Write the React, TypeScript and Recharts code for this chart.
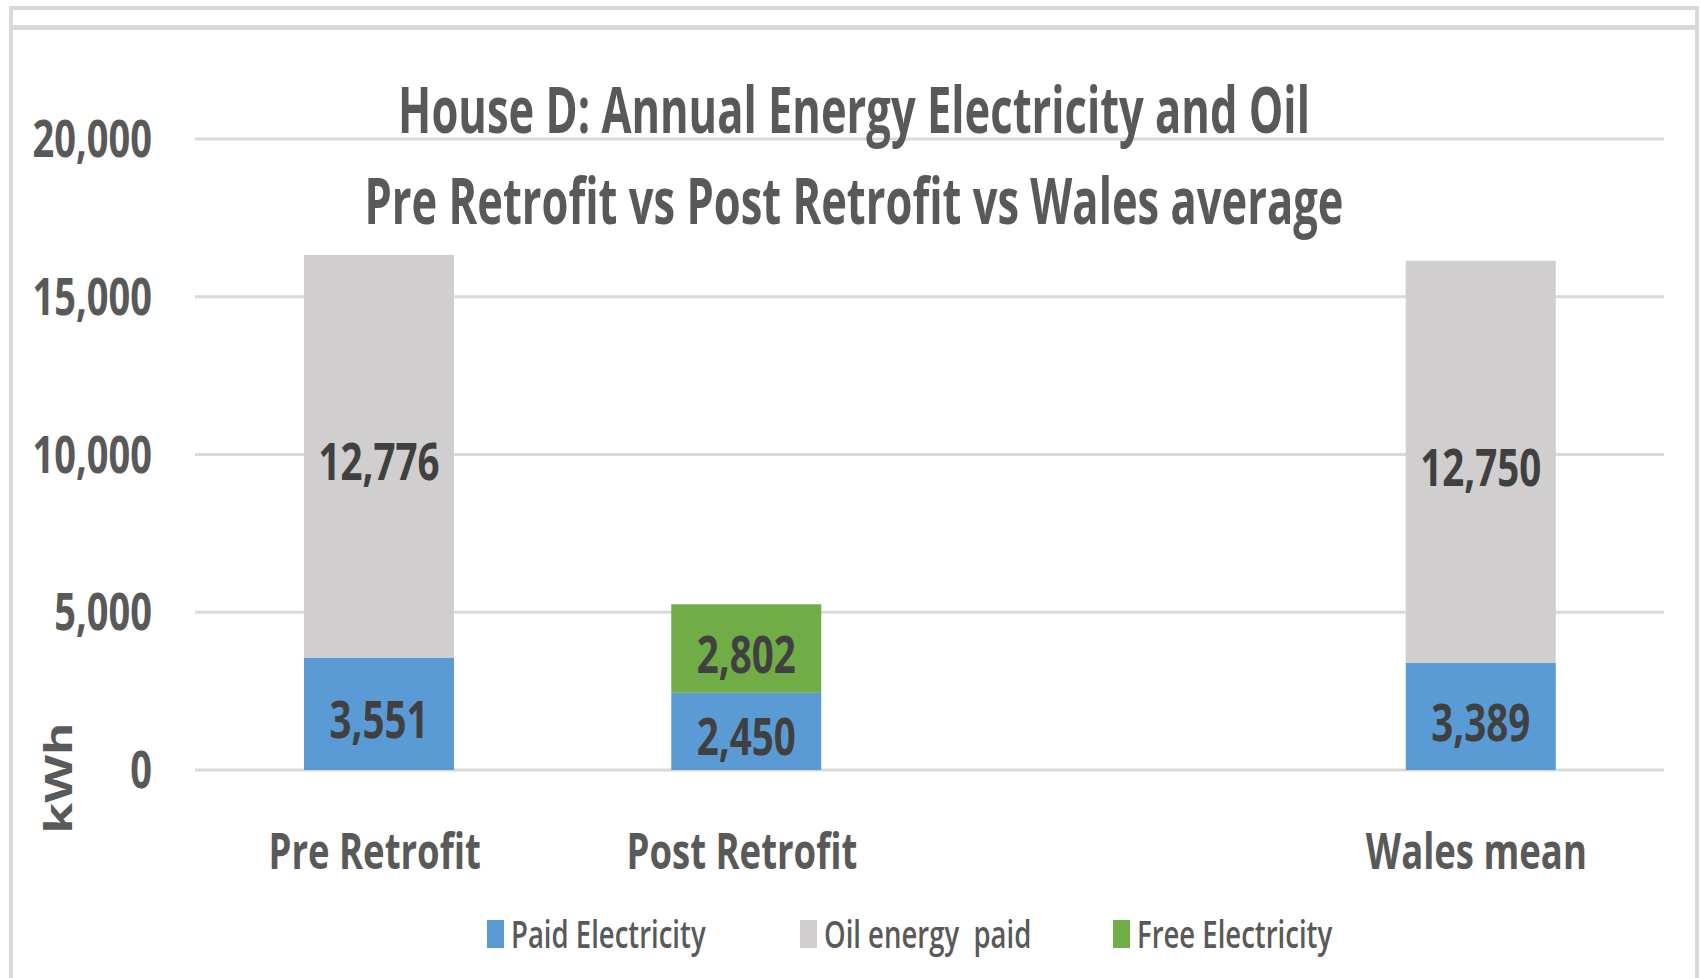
import React from "react";
import { BarChart, Bar, XAxis, YAxis, CartesianGrid, Legend, LabelList } from "recharts";

const CATEGORIES = ["Pre Retrofit", "Post Retrofit", "", "Wales mean"];
const PAID_ELECTRICITY = [3551, 2450, null, 3389];
const OIL_ENERGY_PAID = [12776, null, null, 12750];
const FREE_ELECTRICITY = [null, 2802, null, null];
const Y_TICKS = [0, 5000, 10000, 15000, 20000];
const TITLE_LINES = [
  "House D: Annual Energy Electricity and Oil",
  "Pre Retrofit vs Post Retrofit vs Wales average",
];
const Y_LABEL = "kWh";
const SERIES = [
  { key: "paid", name: "Paid Electricity", color: "#5B9BD5" },
  { key: "oil", name: "Oil energy  paid", color: "#D0CECE" },
  { key: "free", name: "Free Electricity", color: "#70AD47" },
];

const data = CATEGORIES.map((category, i) => ({
  category,
  paid: PAID_ELECTRICITY[i],
  oil: OIL_ENERGY_PAID[i],
  free: FREE_ELECTRICITY[i],
}));

const FONT = "'Open Sans', sans-serif";
const GREY_TEXT = "#595959";
const GRID = "#D9D9D9";

const fmt = (v: number) => v.toLocaleString("en-US");

// the source picture is stretched vertically, so text is drawn tall
function TallText({ x, y, size, weight, fill, sy, anchor = "middle", children }: any) {
  return (
    <text
      transform={`translate(${x},${y}) scale(1,${sy})`}
      fontFamily={FONT}
      fontSize={size}
      fontWeight={weight}
      fill={fill}
      textAnchor={anchor}
      style={{ whiteSpace: "pre" }}
    >
      {children}
    </text>
  );
}

function YTick({ x, y, payload }: any) {
  return (
    <TallText x={x} y={y + 18} size={38} weight={700} fill={GREY_TEXT} sy={1.37} anchor="end">
      {fmt(payload.value)}
    </TallText>
  );
}

function XTick({ x, y, payload }: any) {
  if (!payload.value) return null;
  return (
    <TallText x={x - 4} y={y + 99} size={36.5} weight={700} fill={GREY_TEXT} sy={1.38}>
      {payload.value}
    </TallText>
  );
}

function BarValue(props: any) {
  const { value } = props;
  if (value == null || value === 0) return null;
  const vb = props.viewBox || props;
  const cx = vb.x + vb.width / 2;
  const cy = vb.y + vb.height / 2 + 5;
  return (
    <TallText x={cx} y={cy + 19} size={38.5} weight={700} fill="#404040" sy={1.37}>
      {fmt(value)}
    </TallText>
  );
}

function LegendContent({ payload }: any) {
  const items = [...(payload || [])].sort(
    (a: any, b: any) =>
      SERIES.findIndex((s) => s.name === a.value) - SERIES.findIndex((s) => s.name === b.value)
  );
  return (
    <div style={{ display: "flex", alignItems: "center", paddingLeft: 487, height: 40 }}>
      {items.map((p: any) => (
        <div key={p.value} style={{ width: 313, display: "flex", alignItems: "center" }}>
          <span style={{ display: "inline-block", width: 17, height: 28, background: p.color, marginRight: 7 }} />
          <span
            style={{
              display: "inline-block",
              fontFamily: FONT,
              fontSize: 27.5,
              fontWeight: 600,
              lineHeight: "28px",
              color: GREY_TEXT,
              whiteSpace: "pre",
              transform: "scaleY(1.4)",
            }}
          >
            {p.value}
          </span>
        </div>
      ))}
    </div>
  );
}

export default function App() {
  return (
    <div style={{ position: "absolute", left: 0, top: 0, width: 1700, height: 978, overflow: "hidden", background: "#fff" }}>
      {/* chart frame */}
      <div
        style={{
          position: "absolute", left: 9, top: 6, width: 1690, height: 1100,
          border: `4px solid ${GRID}`, boxSizing: "border-box",
        }}
      />
      <div style={{ position: "absolute", left: 9, top: 25, width: 1690, height: 5, background: GRID }} />

      <div style={{ position: "absolute", left: 0, top: 0 }}>
        <BarChart
          width={1700}
          height={978}
          data={data}
          margin={{ top: 139, right: 36, left: 0, bottom: 108 }}
        >
          <CartesianGrid vertical={false} stroke={GRID} strokeWidth={3} />
          <YAxis
            width={195}
            domain={[0, 20000]}
            ticks={Y_TICKS}
            axisLine={false}
            tickLine={false}
            tickSize={0}
            tickMargin={43}
            tick={<YTick />}
          />
          <XAxis
            dataKey="category"
            height={100}
            interval={0}
            axisLine={false}
            tickLine={false}
            tickSize={0}
            tickMargin={0}
            tick={<XTick />}
          />
          <Legend
            layout="horizontal"
            align="center"
            verticalAlign="middle"
            wrapperStyle={{ left: 0, top: 914, width: 1700 }}
            content={<LegendContent />}
          />
          {SERIES.map((s) => (
            <Bar key={s.key} dataKey={s.key} name={s.name} stackId="a" fill={s.color} barSize={150} isAnimationActive={false}>
              <LabelList dataKey={s.key} content={<BarValue />} />
            </Bar>
          ))}
        </BarChart>
      </div>

      {/* title and axis title */}
      <svg width={1700} height={978} style={{ position: "absolute", left: 0, top: 0, pointerEvents: "none" }}>
        <TallText x={854} y={133} size={43.5} weight={700} fill={GREY_TEXT} sy={1.5}>
          {TITLE_LINES[0]}
        </TallText>
        <TallText x={854} y={224} size={43.5} weight={700} fill={GREY_TEXT} sy={1.5}>
          {TITLE_LINES[1]}
        </TallText>
        <text
          transform="translate(72,778) rotate(-90) scale(1.3,1)"
          fontFamily={FONT}
          fontSize={38}
          fontWeight={700}
          fill={GREY_TEXT}
          textAnchor="middle"
        >
          {Y_LABEL}
        </text>
      </svg>
    </div>
  );
}
